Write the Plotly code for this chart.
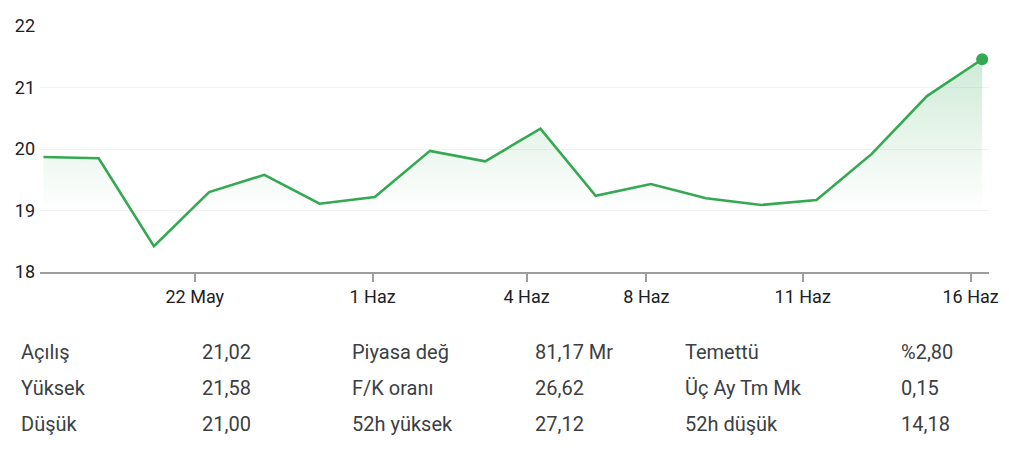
import plotly.graph_objects as go

# price series, one point per step
prices = [19.87, 19.85, 18.42, 19.30, 19.58, 19.11, 19.22, 19.97, 19.80, 20.33,
          19.24, 19.43, 19.20, 19.09, 19.17, 19.92, 20.86, 21.46]
steps = list(range(len(prices)))

# date ticks sit between the points
tick_pos = [2.74, 5.96, 8.75, 10.92, 13.75, 16.79]
tick_labels = ["22 May", "1 Haz", "4 Haz", "8 Haz", "11 Haz", "16 Haz"]

y_ticks = [18, 19, 20, 21, 22]

# stats table below the chart
col1_names = ["Açılış", "Yüksek", "Düşük"]
col1_vals = ["21,02", "21,58", "21,00"]
col2_names = ["Piyasa değ", "F/K oranı", "52h yüksek"]
col2_vals = ["81,17 Mr", "26,62", "27,12"]
col3_names = ["Temettü", "Üç Ay Tm Mk", "52h düşük"]
col3_vals = ["%2,80", "0,15", "14,18"]

GREEN = "#34A853"
TEXT = "#202124"
W, H = 1009, 468
L, R, T, B = 40, 999, 26, 272

fig = go.Figure()
fig.add_trace(go.Scatter(
    x=steps, y=prices, mode="lines",
    line=dict(color=GREEN, width=2.6),
    fill="tozeroy",
    fillgradient=dict(type="vertical", start=19.0, stop=21.5,
                      colorscale=[[0, "rgba(52,168,83,0)"], [1, "rgba(52,168,83,0.24)"]]),
    hoverinfo="skip",
))
fig.add_trace(go.Scatter(
    x=[steps[-1]], y=[prices[-1]], mode="markers", cliponaxis=False,
    marker=dict(color=GREEN, size=12), hoverinfo="skip",
))


def px_to_paper(px, py):
    return (px - L) / (R - L), (B - py) / (B - T)


rows_y = [352, 388, 424]
cols = [(19, col1_names), (202, col1_vals), (353, col2_names),
        (538, col2_vals), (690, col3_names), (908, col3_vals)]
for cx, texts in cols:
    for ry, txt in zip(rows_y, texts):
        ax, ay = px_to_paper(cx, ry)
        fig.add_annotation(x=ax, y=ay, xref="paper", yref="paper", text=txt,
                           showarrow=False, xanchor="left", yanchor="middle",
                           font=dict(family="Roboto", size=20, color="#3c4043"))

# one step is about 55.8 px; first point sits a few px inside the plot
step_px, first_px = 55.8, 43.5
x0 = -(first_px - L) / step_px
x1 = (R - first_px) / step_px
fig.update_layout(
    width=W, height=H,
    margin=dict(l=L, r=W - R, t=T, b=H - B),
    paper_bgcolor="white", plot_bgcolor="white",
    showlegend=False,
    font=dict(family="Roboto", size=18, color=TEXT),
    xaxis=dict(range=[x0, x1], tickvals=tick_pos, ticktext=tick_labels,
               showgrid=False, zeroline=False, showline=True, linecolor="#9e9e9e",
               linewidth=1.5, ticks="outside", ticklen=8, tickcolor="#9e9e9e",
               tickwidth=1.5, tickfont=dict(size=18, color=TEXT)),
    yaxis=dict(range=[18, 22], tickvals=y_ticks, showgrid=True, gridcolor="#f1f1f1",
               zeroline=False, showline=False, ticks="", ticklabelstandoff=4,
               tickfont=dict(size=18, color=TEXT)),
)
fig.write_html("out.html", config={"displayModeBar": False},
               post_script="document.body.style.margin='0';")
